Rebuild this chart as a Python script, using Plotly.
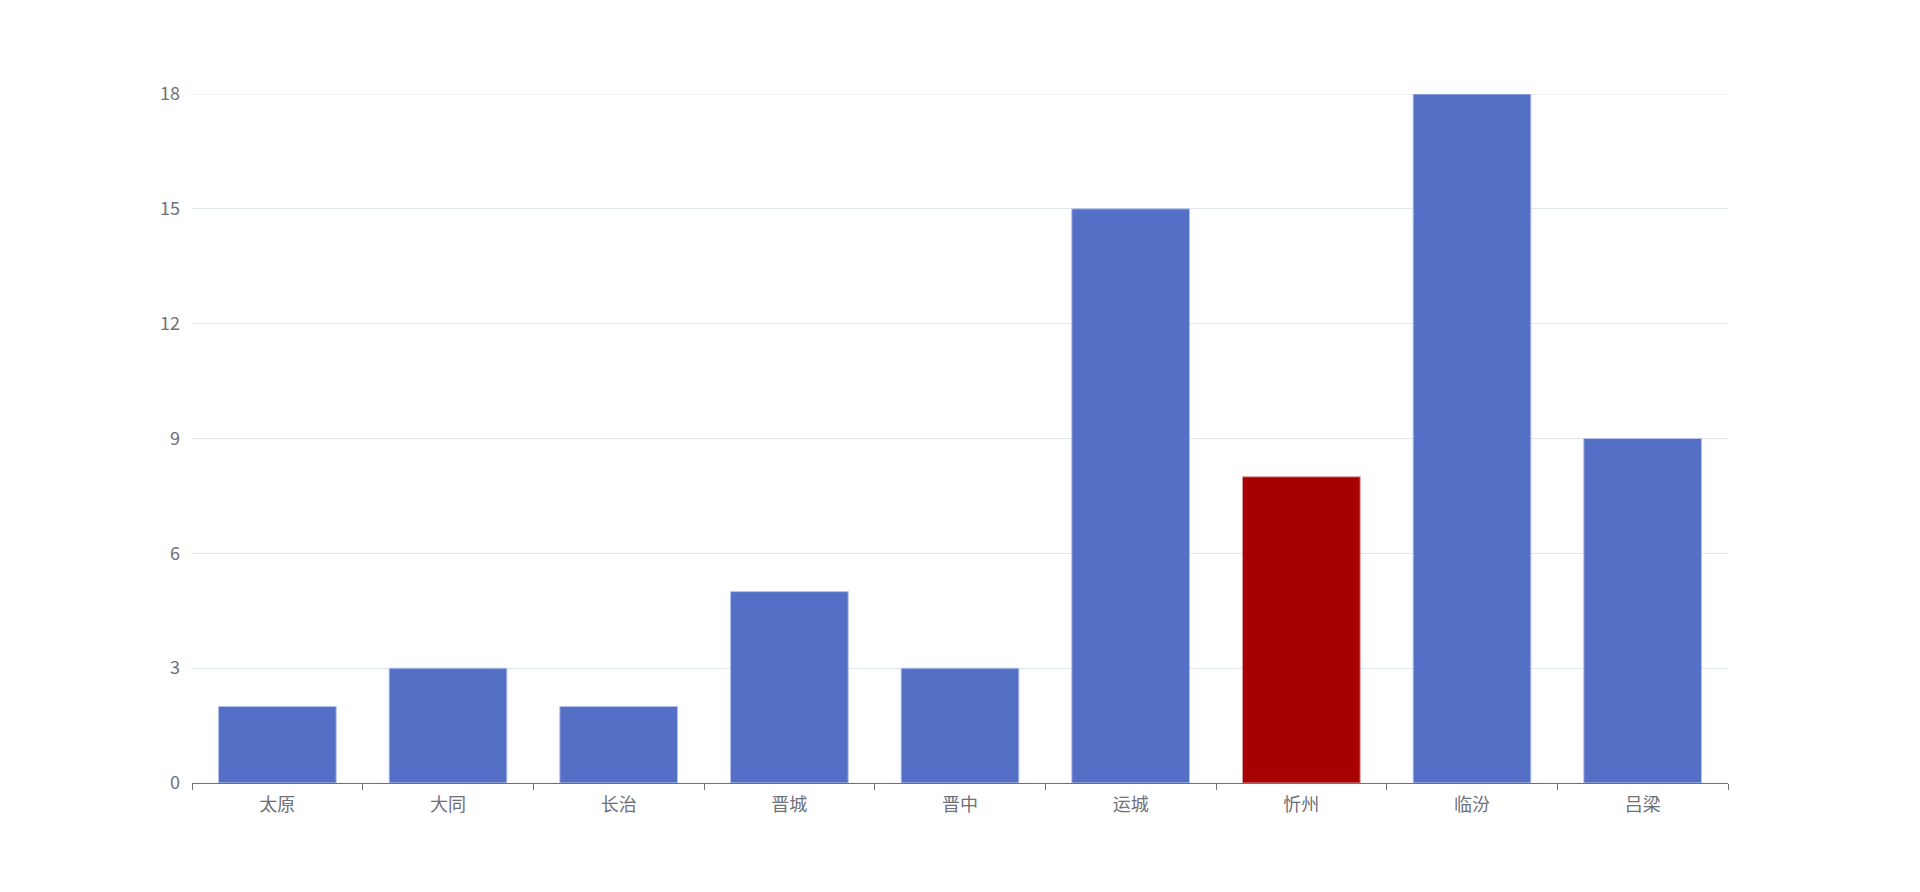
import plotly.graph_objects as go

cities = ["太原", "大同", "长治", "晋城", "晋中", "运城", "忻州", "临汾", "吕梁"]
values = [2, 3, 2, 5, 3, 15, 8, 18, 9]
y_ticks = [0, 3, 6, 9, 12, 15, 18]
highlight = "忻州"
base_color = "#5470c6"
hi_color = "#a80000"

colors = [hi_color if c == highlight else base_color for c in cities]
line_colors = ["#d9a0a0" if c == highlight else "#b8c4ea" for c in cities]

fig = go.Figure(go.Bar(
    x=cities, y=values,
    marker=dict(color=colors, line=dict(color=line_colors, width=1)),
    hoverinfo="x+y",
))

grid_color = "#E0E6F1"
font_family = "Noto Sans CJK SC, Microsoft YaHei, sans-serif"
fig.update_layout(
    width=1920, height=892,
    margin=dict(l=184, r=200, t=86, b=117),
    paper_bgcolor="white", plot_bgcolor="white",
    bargap=0.31,
    showlegend=False,
    font=dict(family=font_family, size=17, color="#6E7079"),
    xaxis=dict(
        type="category",
        showline=True, linecolor="#6E7079", linewidth=1,
        ticks="outside", tickson="boundaries", ticklen=6, tickcolor="#6E7079",
        showgrid=False, zeroline=False,
        tickfont=dict(size=18, color="#6E7079"),
        ticklabelstandoff=5,
    ),
    yaxis=dict(
        range=[0, max(y_ticks)], tickvals=y_ticks,
        showgrid=True, gridcolor=grid_color, gridwidth=1,
        zeroline=False, showline=False, ticks="",
        tickfont=dict(size=18, color="#6E7079"),
        ticklabelstandoff=11,
    ),
    shapes=[dict(type="line", xref="paper", yref="y", x0=0, x1=1,
                 y0=max(y_ticks), y1=max(y_ticks),
                 line=dict(color=grid_color, width=1), layer="below")],
)

fig.write_html("out.html")
